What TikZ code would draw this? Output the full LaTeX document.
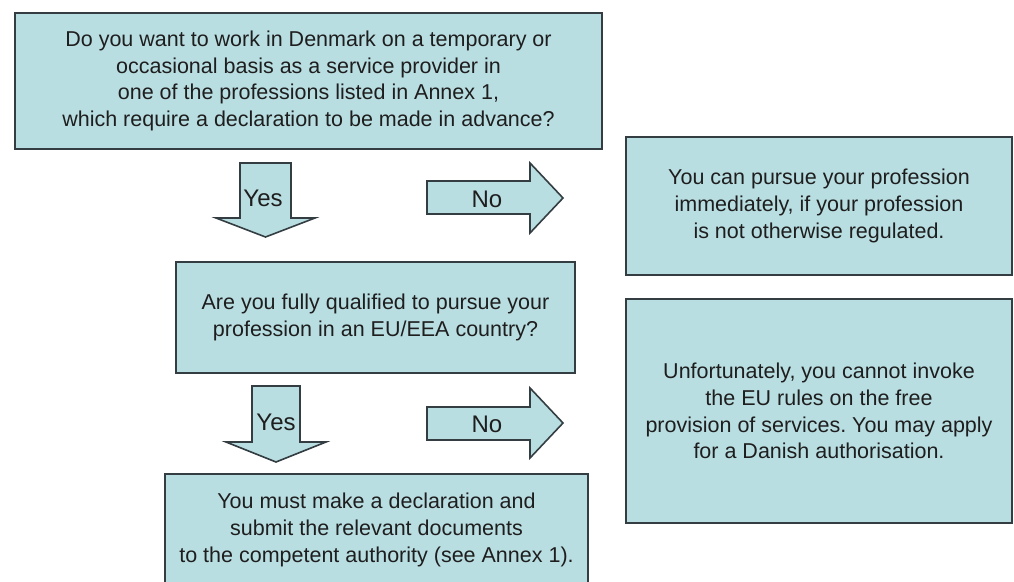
\documentclass[tikz,border=0pt]{standalone}
\usepackage{fontspec}
\setmainfont{Liberation Sans}
\usetikzlibrary{positioning}
\frenchspacing
\definecolor{boxfill}{HTML}{B9DEE2}
\definecolor{boxline}{HTML}{343E42}
\definecolor{inktext}{HTML}{1E1E1E}
\tikzset{
  every picture/.style={
    line join=miter,
  },
  infobox/.style={draw=boxline, fill=boxfill, line width=2pt, align=center,
    text=inktext, inner sep=0pt, font=\fontsize{21.5}{26.7}\selectfont},
  blockarrow/.style={draw=boxline, fill=boxfill, line width=1.6pt},
  arrowlabel/.style={text=inktext, inner sep=0pt, font=\fontsize{24}{28}\selectfont},
}

\begin{document}
\begin{tikzpicture}[x=1pt,y=-1pt]
\useasboundingbox (0,0) rectangle (1014,581);
% questions
\node[infobox,minimum width=587pt,minimum height=136pt] (askwork) at (308.5,81)
  {Do you want to work in Denmark on a temporary or\\
   occasional basis as a service provider in\\
   one of the professions listed in Annex 1,\\
   which require a declaration to be made in advance?};
\node[infobox,minimum width=399pt,minimum height=111pt] (askqual) at (375.5,317.5)
  {Are you fully qualified to pursue your\\
   profession in an EU/EEA country?};
\node[infobox,minimum width=423pt,minimum height=112pt] (declare) at (376.5,530)
  {You must make a declaration and\\
   submit the relevant documents\\
   to the competent authority (see Annex 1).};
% outcomes on the right
\node[infobox,minimum width=386pt,minimum height=138pt] (pursue) at (819,206)
  {You can pursue your profession\\
   immediately, if your profession\\
   is not otherwise regulated.};
\node[infobox,minimum width=386pt,minimum height=224pt] (noinvoke) at (819,411)
  {Unfortunately, you cannot invoke\\
   the EU rules on the free\\
   provision of services. You may apply\\
   for a Danish authorisation.};
% block arrows
\draw[blockarrow](240,163)--(291,163)--(291,218)--(315,218)--(265.5,237)--(216,218)--(240,218)--cycle;
\draw[blockarrow](427,181)--(530,181)--(530,163)--(563,198)--(530,233)--(530,214)--(427,214)--cycle;
\draw[blockarrow](252,386)--(300,386)--(300,442)--(326,442)--(276,462)--(226,442)--(252,442)--cycle;
\draw[blockarrow](427,407)--(530,407)--(530,388)--(563,423)--(530,458)--(530,440)--(427,440)--cycle;
\node[arrowlabel] (yesone) at (263,198) {Yes};
\node[arrowlabel] (noone) at (487,199) {No};
\node[arrowlabel] (yestwo) at (276,422) {Yes};
\node[arrowlabel] (notwo) at (487,424) {No};
\end{tikzpicture}
\end{document}
